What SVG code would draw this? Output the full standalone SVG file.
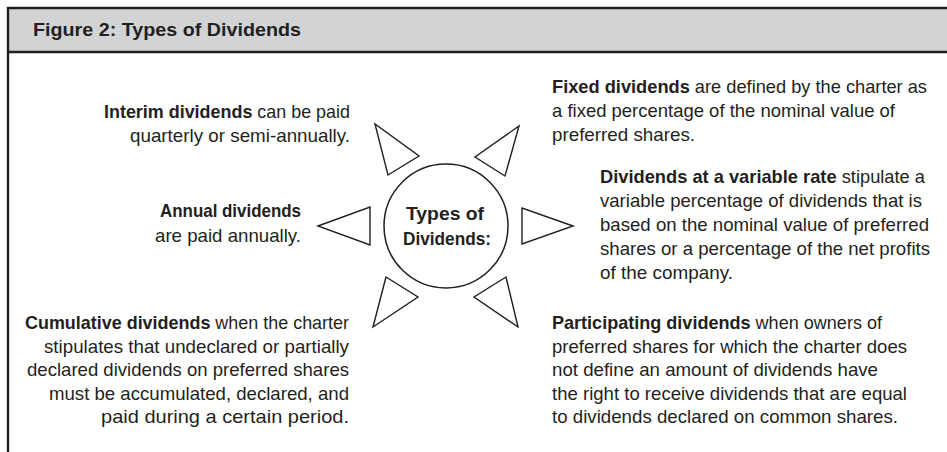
<svg xmlns="http://www.w3.org/2000/svg" width="947" height="452" viewBox="0 0 947 452">
  <style>
    text { font-family: "Liberation Sans", Arial, sans-serif; fill: #231f20; }
    .body { font-size: 18.2px; }
    .title { font-size: 17.5px; font-weight: bold; }
    .b { font-weight: bold; }
    .frame { stroke: #231f20; stroke-width: 2.4; fill: none; }
    .ray { fill: #ffffff; stroke: #231f20; stroke-width: 1.4; stroke-linejoin: miter; }
    .hub { fill: #ffffff; stroke: #231f20; stroke-width: 1.5; }
  </style>

  <!-- panel frame with title bar -->
  <g id="frame">
    <rect x="8" y="8" width="939" height="44" fill="#d1d3d4"/>
    <path class="frame" d="M8 452 V8 H947"/>
    <path class="frame" d="M8 52 H947"/>
    <text class="title" x="33" y="36" textLength="268" lengthAdjust="spacingAndGlyphs">Figure 2: Types of Dividends</text>
  </g>

  <!-- pointers around the centre -->
  <g id="connectors">
    <polygon class="ray" points="318,226 370,207 370,245"/>
    <polygon class="ray" points="573,226 522,208 522,244"/>
    <polygon class="ray" points="375,124 388,175 419,156"/>
    <polygon class="ray" points="519,126 505,176 475,157"/>
    <polygon class="ray" points="386,277 373,327 418,297"/>
    <polygon class="ray" points="506,277 518,327 474,297"/>
  </g>

  <g id="center">
    <circle class="hub" cx="446" cy="226" r="62"/>
    <text class="body b" x="406" y="220" textLength="78" lengthAdjust="spacingAndGlyphs">Types of</text>
    <text class="body b" x="403" y="245" textLength="88" lengthAdjust="spacingAndGlyphs">Dividends:</text>
  </g>

  <g id="interim">
    <text class="body" x="104" y="117.5" textLength="246" lengthAdjust="spacingAndGlyphs"><tspan class="b">Interim dividends</tspan> can be paid</text>
    <text class="body" x="130" y="141.5" textLength="220" lengthAdjust="spacingAndGlyphs">quarterly or semi-annually.</text>
  </g>

  <g id="annual">
    <text class="body b" x="160" y="217" textLength="141" lengthAdjust="spacingAndGlyphs">Annual dividends</text>
    <text class="body" x="155" y="241.5" textLength="146" lengthAdjust="spacingAndGlyphs">are paid annually.</text>
  </g>

  <g id="cumulative">
    <text class="body" x="25" y="329" textLength="324" lengthAdjust="spacingAndGlyphs"><tspan class="b">Cumulative dividends</tspan> when the charter</text>
    <text class="body" x="44" y="352.5" textLength="305" lengthAdjust="spacingAndGlyphs">stipulates that undeclared or partially</text>
    <text class="body" x="27" y="376" textLength="322" lengthAdjust="spacingAndGlyphs">declared dividends on preferred shares</text>
    <text class="body" x="49" y="399.5" textLength="300" lengthAdjust="spacingAndGlyphs">must be accumulated, declared, and</text>
    <text class="body" x="101" y="423" textLength="248" lengthAdjust="spacingAndGlyphs">paid during a certain period.</text>
  </g>

  <g id="fixed">
    <text class="body" x="552" y="93" textLength="375" lengthAdjust="spacingAndGlyphs"><tspan class="b">Fixed dividends</tspan> are defined by the charter as</text>
    <text class="body" x="552" y="117" textLength="343" lengthAdjust="spacingAndGlyphs">a fixed percentage of the nominal value of</text>
    <text class="body" x="552" y="141" textLength="143" lengthAdjust="spacingAndGlyphs">preferred shares.</text>
  </g>

  <g id="variable">
    <text class="body" x="600" y="182.5" textLength="325" lengthAdjust="spacingAndGlyphs"><tspan class="b">Dividends at a variable rate</tspan> stipulate a</text>
    <text class="body" x="600" y="206.5" textLength="322" lengthAdjust="spacingAndGlyphs">variable percentage of dividends that is</text>
    <text class="body" x="600" y="230.5" textLength="329" lengthAdjust="spacingAndGlyphs">based on the nominal value of preferred</text>
    <text class="body" x="600" y="254.5" textLength="330" lengthAdjust="spacingAndGlyphs">shares or a percentage of the net profits</text>
    <text class="body" x="600" y="278.5" textLength="133" lengthAdjust="spacingAndGlyphs">of the company.</text>
  </g>

  <g id="participating">
    <text class="body" x="552" y="329" textLength="330" lengthAdjust="spacingAndGlyphs"><tspan class="b">Participating dividends</tspan> when owners of</text>
    <text class="body" x="552" y="352.5" textLength="355" lengthAdjust="spacingAndGlyphs">preferred shares for which the charter does</text>
    <text class="body" x="552" y="376" textLength="326" lengthAdjust="spacingAndGlyphs">not define an amount of dividends have</text>
    <text class="body" x="552" y="399.5" textLength="355" lengthAdjust="spacingAndGlyphs">the right to receive dividends that are equal</text>
    <text class="body" x="552" y="423" textLength="346" lengthAdjust="spacingAndGlyphs">to dividends declared on common shares.</text>
  </g>
</svg>
